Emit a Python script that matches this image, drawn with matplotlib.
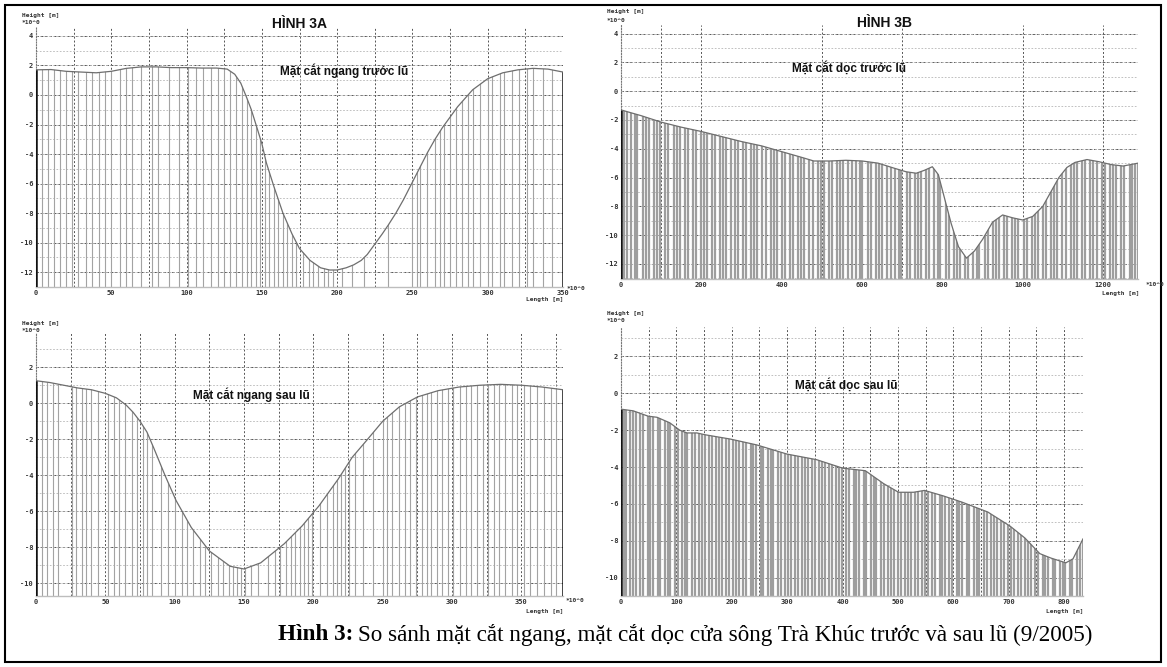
import matplotlib
matplotlib.use("Agg")
import matplotlib.pyplot as plt
from matplotlib.patches import Polygon, Rectangle
from matplotlib.ticker import FixedLocator, MultipleLocator

plt.rcParams["axes.unicode_minus"] = False

W, H = 1167, 667

# HÌNH 3A (top): mặt cắt ngang trước lũ, length [m] / height [m]
ngang_truoc_x = [0, 10, 20, 30, 40, 50, 60, 70, 80, 90, 100, 110, 120, 127, 132, 136,
                 140, 143, 147, 150, 153, 158, 164, 170, 175, 182, 189, 195, 200, 206,
                 211, 216, 220, 225, 230, 234, 239, 244, 249, 254, 260, 265, 270, 275,
                 280, 290, 300, 310, 320, 330, 340, 350]
ngang_truoc_z = [1.7, 1.72, 1.6, 1.55, 1.5, 1.6, 1.8, 1.9, 1.9, 1.85, 1.85, 1.82, 1.82,
                 1.75, 1.4, 0.8, -0.2, -1.0, -2.3, -3.3, -4.6, -6.2, -8.0, -9.4, -10.4,
                 -11.2, -11.7, -11.85, -11.85, -11.7, -11.5, -11.2, -10.8, -10.1, -9.4,
                 -8.8, -8.0, -7.1, -6.1, -5.1, -3.9, -3.0, -2.2, -1.5, -0.8, 0.35, 1.1,
                 1.5, 1.7, 1.8, 1.75, 1.55]
ngang_truoc_diem = [0, 4, 8, 12, 16, 20, 24, 28, 33, 37, 42, 46, 50, 56, 60, 64, 70, 77,
                    81, 88, 95, 101, 106, 111, 116, 121, 125, 129, 133, 137, 140, 143,
                    146, 149, 152, 155, 158, 161, 164, 167, 170, 173, 177, 181, 184, 187,
                    191, 194, 197, 203, 210, 218, 234, 250, 253, 255, 260, 265, 268, 271,
                    275, 279, 283, 287, 290, 295, 300, 303, 308, 311, 316, 321, 326, 330,
                    337, 343, 350]

# HÌNH 3A (bottom): mặt cắt ngang sau lũ
ngang_sau_x = [0, 10, 20, 30, 40, 50, 58, 65, 70, 75, 80, 85, 93, 101, 112, 125, 140,
               150, 162, 179, 192, 204, 218, 228, 238, 250, 262, 275, 290, 305, 320, 335,
               350, 365, 380]
ngang_sau_z = [1.25, 1.15, 1.0, 0.85, 0.75, 0.55, 0.3, -0.1, -0.5, -1.0, -1.6, -2.5,
               -4.0, -5.4, -6.9, -8.2, -9.05, -9.2, -8.86, -7.8, -6.8, -5.7, -4.2, -3.0,
               -2.1, -1.0, -0.2, 0.35, 0.7, 0.9, 1.0, 1.05, 1.0, 0.9, 0.75]
ngang_sau_diem = [0, 4, 8, 12, 16, 26, 29, 33, 36, 40, 45, 52, 56, 60, 64, 69, 73, 77,
                  80, 84, 90, 95, 100, 105, 109, 113, 118, 122, 126, 131, 135, 139, 142,
                  145, 148, 151, 155, 160, 167, 172, 176, 180, 184, 187, 190, 193, 196,
                  199, 205, 210, 214, 217, 220, 223, 226, 230, 236, 243, 250, 253, 257,
                  262, 266, 270, 274, 278, 282, 285, 289, 293, 297, 301, 306, 310, 314,
                  318, 322, 326, 330, 334, 338, 343, 347, 352, 356, 361, 366, 371, 375,
                  380]

# HÌNH 3B (top): mặt cắt dọc trước lũ
doc_truoc_x = [0, 50, 100, 150, 200, 250, 300, 350, 400, 450, 480, 520, 560, 600, 640,
               680, 710, 735, 755, 775, 790, 805, 822, 840, 860, 880, 900, 925, 950, 975,
               1000, 1025, 1050, 1070, 1090, 1110, 1130, 1160, 1190, 1220, 1250, 1287]
doc_truoc_z = [-1.3, -1.7, -2.15, -2.5, -2.8, -3.15, -3.5, -3.8, -4.2, -4.6, -4.85, -4.85,
               -4.8, -4.85, -5.0, -5.35, -5.6, -5.7, -5.5, -5.25, -5.8, -7.4, -9.2, -10.8,
               -11.6, -11.1, -10.3, -9.1, -8.6, -8.8, -8.95, -8.7, -8.0, -7.0, -6.0, -5.3,
               -4.95, -4.75, -4.9, -5.1, -5.2, -5.0]
doc_truoc_diem = [0, 8, 14, 26, 34, 41, 55, 63, 70, 82, 90, 97, 110, 118, 131, 139, 146,
                  160, 167, 178, 186, 199, 206, 214, 226, 233, 247, 255, 262, 275, 283,
                  291, 303, 311, 324, 332, 339, 352, 360, 373, 380, 388, 401, 409, 420,
                  428, 441, 448, 456, 469, 477, 490, 497, 505, 517, 525, 538, 546, 553,
                  566, 574, 586, 594, 601, 614, 622, 635, 643, 650, 663, 671, 683, 691,
                  698, 711, 719, 731, 739, 747, 760, 767, 780, 788, 795, 808, 816, 828,
                  836, 844, 856, 864, 877, 885, 892, 905, 913, 925, 933, 941, 954, 961,
                  974, 982, 989, 1002, 1010, 1023, 1030, 1038, 1051, 1058, 1071, 1079,
                  1086, 1099, 1107, 1120, 1127, 1135, 1148, 1155, 1168, 1176, 1184, 1197,
                  1204, 1217, 1225, 1232, 1245, 1253, 1266, 1273, 1280, 1287]

# HÌNH 3B (bottom): mặt cắt dọc sau lũ
doc_sau_x = [0, 22, 49, 65, 88, 106, 119, 137, 152, 197, 245, 300, 353, 400, 441, 474,
             501, 528, 548, 581, 615, 662, 702, 729, 756, 776, 803, 816, 834]
doc_sau_z = [-0.86, -0.95, -1.24, -1.3, -1.6, -2.0, -2.15, -2.15, -2.25, -2.48, -2.8,
             -3.3, -3.6, -4.06, -4.2, -4.9, -5.37, -5.37, -5.27, -5.56, -5.9, -6.44,
             -7.2, -7.85, -8.7, -8.94, -9.2, -8.98, -7.9]
doc_sau_diem = [0, 5, 9, 17, 22, 27, 35, 40, 48, 53, 58, 66, 71, 79, 84, 89, 97, 102,
                110, 115, 120, 128, 133, 141, 146, 151, 159, 164, 172, 177, 182, 190,
                195, 203, 208, 213, 221, 226, 234, 239, 244, 252, 257, 265, 270, 275,
                283, 288, 296, 301, 306, 314, 319, 327, 332, 337, 345, 350, 358, 363,
                368, 376, 381, 389, 394, 399, 407, 412, 420, 425, 430, 438, 443, 451,
                456, 461, 469, 474, 482, 487, 492, 500, 505, 513, 518, 523, 531, 536,
                544, 549, 554, 562, 567, 575, 580, 585, 593, 598, 606, 611, 616, 624,
                629, 637, 642, 647, 655, 660, 668, 673, 678, 686, 691, 699, 704, 709,
                717, 722, 730, 735, 740, 748, 753, 761, 766, 771, 779, 784, 792, 797,
                802, 810, 815, 823, 828, 834]

MONO = "DejaVu Sans Mono"


def px_axes(fig, left, top, right, bottom):
    return fig.add_axes([left / W, 1 - bottom / H, (right - left) / W, (bottom - top) / H])


def ftext(fig, x, y, s, **kw):
    return fig.text(x / W, 1 - y / H, s, **kw)


def draw_profile(ax, x, z, diem, xlim, ylim, xticks, yticks, xgrid, stem_lw, stem_color,
                 dark_right):
    ax.set_xlim(*xlim)
    ax.set_ylim(*ylim)
    lo = ylim[0]

    # stems from the bed down to the axis, clipped to the area under the profile
    under = Polygon(list(zip(x, z)) + [(x[-1], lo), (x[0], lo)], closed=True,
                    facecolor="none", edgecolor="none", transform=ax.transData)
    ax.add_patch(under)
    stems = ax.vlines(diem, lo, ylim[1], colors=stem_color, lw=stem_lw, zorder=2)
    stems.set_clip_path(under)
    edge = [diem[0], diem[-1]] if dark_right else [diem[0]]
    dark = ax.vlines(edge, lo, ylim[1], colors="#111111", lw=1.8, zorder=3)
    dark.set_clip_path(under)

    ax.plot(x, z, color="#6e6e6e", lw=0.9, zorder=4)

    # minor ticks carry the grid, so keep them where they meet the labelled ones
    ax.xaxis.remove_overlapping_locs = False
    ax.yaxis.remove_overlapping_locs = False
    ax.set_xticks(xticks)
    ax.set_yticks(yticks)
    ax.xaxis.set_minor_locator(FixedLocator(xgrid))
    ax.yaxis.set_minor_locator(MultipleLocator(1))
    ax.grid(which="minor", axis="y", color="#b5b5b5", ls=(0, (2, 2)), lw=0.6)
    ax.grid(which="major", axis="y", color="#555555", ls=(0, (2.5, 2)), lw=0.7)
    ax.grid(which="minor", axis="x", color="#555555", ls=(0, (2, 2)), lw=0.7)
    ax.set_axisbelow(True)

    for s in ("top", "right"):
        ax.spines[s].set_visible(False)
    ax.spines["left"].set_color("#777777")
    ax.spines["left"].set_linestyle((0, (1, 1.5)))
    ax.spines["left"].set_linewidth(0.8)
    ax.spines["bottom"].set_color("#bdbdbd")
    ax.spines["bottom"].set_linewidth(1.0)
    ax.tick_params(which="both", length=0, pad=2, labelsize=5, labelcolor="#333333")
    ax.tick_params(which="minor", labelbottom=False, labelleft=False)
    for lab in ax.get_xticklabels() + ax.get_yticklabels():
        lab.set_fontfamily(MONO)
        lab.set_fontweight("bold")
    ax.patch.set_alpha(0)


fig = plt.figure(figsize=(W / 100, H / 100), dpi=100)

# top left
ax1 = px_axes(fig, 36, 27, 563, 287)
draw_profile(ax1, ngang_truoc_x, ngang_truoc_z, ngang_truoc_diem, (0, 350), (-13.0, 4.6),
             [0, 50, 100, 150, 200, 250, 300, 350], [4, 2, 0, -2, -4, -6, -8, -10, -12],
             [25, 50, 75, 100, 125, 150, 175, 200, 225, 250, 275, 300, 325],
             0.8, "#a3a3a3", True)

# top right
ax2 = px_axes(fig, 621, 25, 1138, 279)
draw_profile(ax2, doc_truoc_x, doc_truoc_z, doc_truoc_diem, (0, 1287), (-13.05, 4.6),
             [0, 200, 400, 600, 800, 1000, 1200], [4, 2, 0, -2, -4, -6, -8, -10, -12],
             [100, 200, 500, 700, 1000, 1200], 1.6, "#9e9e9e", False)

# bottom left
ax3 = px_axes(fig, 36, 333, 563, 596)
draw_profile(ax3, ngang_sau_x, ngang_sau_z, ngang_sau_diem, (0, 380), (-10.7, 3.9),
             [0, 50, 100, 150, 200, 250, 300, 350], [2, 0, -2, -4, -6, -8, -10],
             [25, 50, 75, 100, 125, 150, 175, 200, 225, 250, 275, 300, 325, 350, 375],
             0.8, "#a3a3a3", True)

# bottom right
ax4 = px_axes(fig, 621, 327, 1083, 596)
draw_profile(ax4, doc_sau_x, doc_sau_z, doc_sau_diem, (0, 834), (-11.0, 3.6),
             [0, 100, 200, 300, 400, 500, 600, 700, 800], [2, 0, -2, -4, -6, -8, -10],
             [50, 100, 150, 200, 250, 300, 350, 400, 450, 500, 550, 600, 650, 700, 750, 800],
             1.6, "#9e9e9e", False)

# screen-capture labels
small = dict(fontsize=4.5, family=MONO, fontweight="bold", color="#333333", va="center")
for x0, y0 in [(22, 15), (607, 12), (22, 323), (607, 313)]:
    ftext(fig, x0, y0, "Height [m]", **small)
    ftext(fig, x0, y0 + 8, "*10^0", **small)
for x0, y0 in [(567, 288), (1146, 285), (566, 601)]:
    ftext(fig, x0, y0, "*10^0", **small)
for x0, y0 in [(563, 299), (1140, 294), (563, 611), (1083, 611)]:
    ftext(fig, x0, y0, "Length [m]", ha="right", **small)

bold = dict(family="Liberation Sans", fontweight="bold", va="center", color="#111111")
ftext(fig, 272, 24, "HÌNH 3A", fontsize=10, **bold)
ftext(fig, 857, 23, "HÌNH 3B", fontsize=10, **bold)
ftext(fig, 280, 71, "Mặt cắt ngang trước lũ", fontsize=8.5, **bold)
ftext(fig, 792, 68, "Mặt cắt dọc trước lũ", fontsize=8.5, **bold)
ftext(fig, 193, 395, "Mặt cắt ngang sau lũ", fontsize=8.5, **bold)
ftext(fig, 795, 385, "Mặt cắt dọc sau lũ", fontsize=8.5, **bold)

# caption
cap_font = dict(fontsize=16.7, family="Liberation Serif", va="center")
cap_bold = ftext(fig, 278, 635, "Hình 3:", fontweight="bold", **cap_font)
fig.canvas.draw()
bb = cap_bold.get_window_extent()
ftext(fig, bb.x1 + 5, 635,
      "So sánh mặt cắt ngang, mặt cắt dọc cửa sông Trà Khúc trước và sau lũ (9/2005)",
      **cap_font)

fig.add_artist(Rectangle((5 / W, 5 / H), 1156 / W, 657 / H, transform=fig.transFigure,
                         fill=False, edgecolor="black", lw=1.5))

fig.savefig("out.png", dpi=100)
